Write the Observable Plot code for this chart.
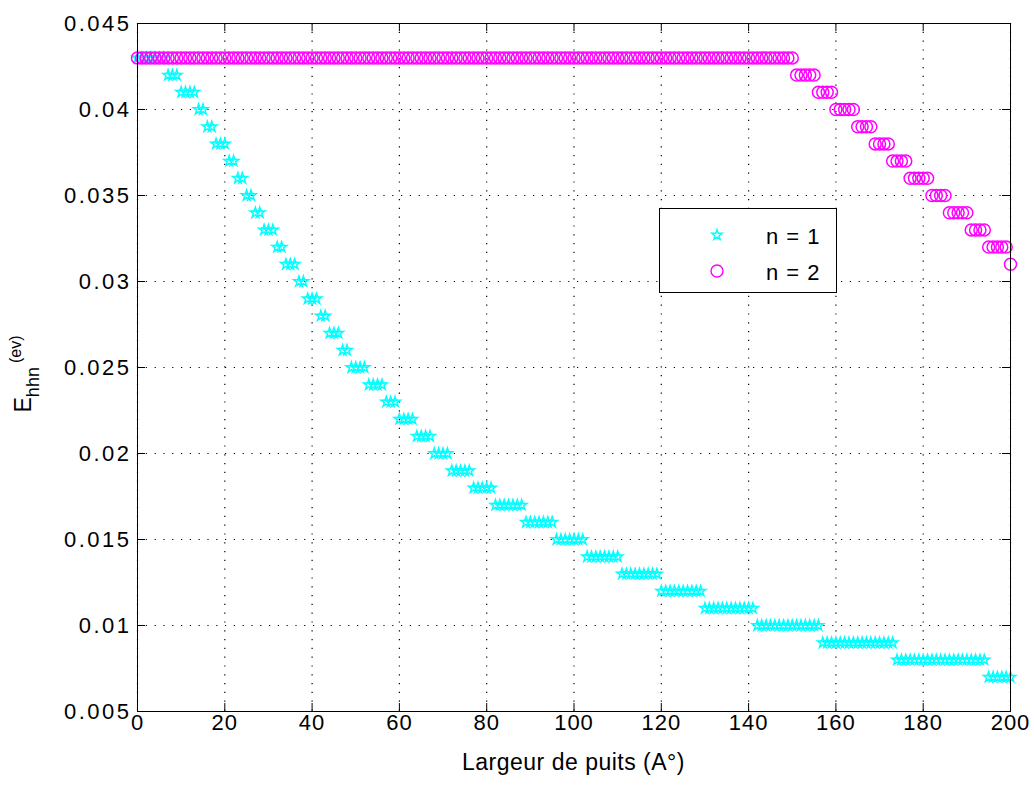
<!DOCTYPE html>
<html>
<head>
<meta charset="utf-8">
<script src="https://cdn.jsdelivr.net/npm/d3@7"></script>
<script src="https://cdn.jsdelivr.net/npm/@observablehq/plot@0.6"></script>
<style>
  html, body { margin: 0; padding: 0; background: #fff; }
  #wrap { position: relative; width: 1034px; height: 785px; overflow: hidden; background: #fff; }
  #legend { position: absolute; left: 659px; top: 208px; width: 178px; height: 85px; box-sizing: border-box;
            border: 1px solid #000; background: #fff; font-family: "Liberation Sans", Arial, sans-serif; font-size: 22px; color: #000; letter-spacing: 1px; }
  #legend .row { position: absolute; left: 0; width: 100%; height: 30px; }
  #legend svg { position: absolute; left: 42px; top: 0; }
  #legend span { position: absolute; left: 106px; top: 3px; white-space: pre; }
  .ytl text { letter-spacing: 2.5px; }
  .xtl text { letter-spacing: 1px; }
</style>
</head>
<body>
<div id="wrap"></div>
<script>
// ---- Data ----
const widths = [
  0,1,2,3,4,5,6,7,8,9,
  10,11,12,13,14,15,16,17,18,19,
  20,21,22,23,24,25,26,27,28,29,
  30,31,32,33,34,35,36,37,38,39,
  40,41,42,43,44,45,46,47,48,49,
  50,51,52,53,54,55,56,57,58,59,
  60,61,62,63,64,65,66,67,68,69,
  70,71,72,73,74,75,76,77,78,79,
  80,81,82,83,84,85,86,87,88,89,
  90,91,92,93,94,95,96,97,98,99,
  100,101,102,103,104,105,106,107,108,109,
  110,111,112,113,114,115,116,117,118,119,
  120,121,122,123,124,125,126,127,128,129,
  130,131,132,133,134,135,136,137,138,139,
  140,141,142,143,144,145,146,147,148,149,
  150,151,152,153,154,155,156,157,158,159,
  160,161,162,163,164,165,166,167,168,169,
  170,171,172,173,174,175,176,177,178,179,
  180,181,182,183,184,185,186,187,188,189,
  190,191,192,193,194,195,196,197,198,199,
  200
];

// n = 1 (cyan stars)
const energyN1 = [
  0.043,0.043,0.043,0.043,0.043,0.043,0.043,0.042,0.042,0.042,
  0.041,0.041,0.041,0.041,0.040,0.040,0.039,0.039,0.038,0.038,
  0.038,0.037,0.037,0.036,0.036,0.035,0.035,0.034,0.034,0.033,
  0.033,0.033,0.032,0.032,0.031,0.031,0.031,0.030,0.030,0.029,
  0.029,0.029,0.028,0.028,0.027,0.027,0.027,0.026,0.026,0.025,
  0.025,0.025,0.025,0.024,0.024,0.024,0.024,0.023,0.023,0.023,
  0.022,0.022,0.022,0.022,0.021,0.021,0.021,0.021,0.020,0.020,
  0.020,0.020,0.019,0.019,0.019,0.019,0.019,0.018,0.018,0.018,
  0.018,0.018,0.017,0.017,0.017,0.017,0.017,0.017,0.017,0.016,
  0.016,0.016,0.016,0.016,0.016,0.016,0.015,0.015,0.015,0.015,
  0.015,0.015,0.015,0.014,0.014,0.014,0.014,0.014,0.014,0.014,
  0.014,0.013,0.013,0.013,0.013,0.013,0.013,0.013,0.013,0.013,
  0.012,0.012,0.012,0.012,0.012,0.012,0.012,0.012,0.012,0.012,
  0.011,0.011,0.011,0.011,0.011,0.011,0.011,0.011,0.011,0.011,
  0.011,0.011,0.010,0.010,0.010,0.010,0.010,0.010,0.010,0.010,
  0.010,0.010,0.010,0.010,0.010,0.010,0.010,0.009,0.009,0.009,
  0.009,0.009,0.009,0.009,0.009,0.009,0.009,0.009,0.009,0.009,
  0.009,0.009,0.009,0.009,0.008,0.008,0.008,0.008,0.008,0.008,
  0.008,0.008,0.008,0.008,0.008,0.008,0.008,0.008,0.008,0.008,
  0.008,0.008,0.008,0.008,0.008,0.007,0.007,0.007,0.007,0.007,
  0.007
];

// n = 2 (magenta circles)
const energyN2 = [
  0.043,0.043,0.043,0.043,0.043,0.043,0.043,0.043,0.043,0.043,
  0.043,0.043,0.043,0.043,0.043,0.043,0.043,0.043,0.043,0.043,
  0.043,0.043,0.043,0.043,0.043,0.043,0.043,0.043,0.043,0.043,
  0.043,0.043,0.043,0.043,0.043,0.043,0.043,0.043,0.043,0.043,
  0.043,0.043,0.043,0.043,0.043,0.043,0.043,0.043,0.043,0.043,
  0.043,0.043,0.043,0.043,0.043,0.043,0.043,0.043,0.043,0.043,
  0.043,0.043,0.043,0.043,0.043,0.043,0.043,0.043,0.043,0.043,
  0.043,0.043,0.043,0.043,0.043,0.043,0.043,0.043,0.043,0.043,
  0.043,0.043,0.043,0.043,0.043,0.043,0.043,0.043,0.043,0.043,
  0.043,0.043,0.043,0.043,0.043,0.043,0.043,0.043,0.043,0.043,
  0.043,0.043,0.043,0.043,0.043,0.043,0.043,0.043,0.043,0.043,
  0.043,0.043,0.043,0.043,0.043,0.043,0.043,0.043,0.043,0.043,
  0.043,0.043,0.043,0.043,0.043,0.043,0.043,0.043,0.043,0.043,
  0.043,0.043,0.043,0.043,0.043,0.043,0.043,0.043,0.043,0.043,
  0.043,0.043,0.043,0.043,0.043,0.043,0.043,0.043,0.043,0.043,
  0.043,0.042,0.042,0.042,0.042,0.042,0.041,0.041,0.041,0.041,
  0.040,0.040,0.040,0.040,0.040,0.039,0.039,0.039,0.039,0.038,
  0.038,0.038,0.038,0.037,0.037,0.037,0.037,0.036,0.036,0.036,
  0.036,0.036,0.035,0.035,0.035,0.035,0.034,0.034,0.034,0.034,
  0.034,0.033,0.033,0.033,0.033,0.032,0.032,0.032,0.032,0.032,
  0.031
];

const seriesNames = ["n = 1", "n = 2"];
const xTicks = [0, 20, 40, 60, 80, 100, 120, 140, 160, 180, 200];
const xTickLabels = ["0", "20", "40", "60", "80", "100", "120", "140", "160", "180", "200"];
const yTicks = [0.005, 0.01, 0.015, 0.02, 0.025, 0.03, 0.035, 0.04, 0.045];
const yTickLabels = ["0.005", "0.01", "0.015", "0.02", "0.025", "0.03", "0.035", "0.04", "0.045"];
const xLabel = "Largeur de puits (A°)";

// ---- Layout ----
const W = 1034, H = 785;
const mL = 137, mR = 24, mT = 23, mB = 74;
const plotW = W - mL - mR, plotH = H - mT - mB;
const tickLen = 8;
const FONT = '"Liberation Sans", Arial, Helvetica, sans-serif';

const n1 = widths.map((w, i) => ({x: w, y: energyN1[i]}));
const n2 = widths.map((w, i) => ({x: w, y: energyN2[i]}));

const gridStyle = {stroke: "#000", strokeOpacity: 1, strokeWidth: 1.2, strokeDasharray: "1.2,7.6"};

const chart = Plot.plot({
  width: W, height: H,
  marginLeft: mL, marginRight: mR, marginTop: mT, marginBottom: mB,
  style: {fontFamily: FONT, fontSize: "22px", color: "#000", background: "#fff", overflow: "visible"},
  x: {domain: [0, 200]},
  y: {domain: [0.005, 0.045]},
  marks: [
    Plot.gridX(xTicks, gridStyle),
    Plot.gridY(yTicks, gridStyle),
    Plot.dot(n1, {x: "x", y: "y", symbol: "star", r: 3.3, stroke: "#00ffff", fill: "none", strokeWidth: 1.5}),
    Plot.dot(n2, {x: "x", y: "y", symbol: "circle", r: 6, stroke: "#ff00ff", fill: "none", strokeWidth: 1.5}),
    Plot.frame({stroke: "#000", strokeWidth: 1}),
    // inward ticks (MATLAB style) on all four sides
    Plot.ruleX(xTicks, {x: d => d, insetTop: plotH - tickLen, stroke: "#000"}),
    Plot.ruleX(xTicks, {x: d => d, insetBottom: plotH - tickLen, stroke: "#000"}),
    Plot.ruleY(yTicks, {y: d => d, insetRight: plotW - tickLen, stroke: "#000"}),
    Plot.ruleY(yTicks, {y: d => d, insetLeft: plotW - tickLen, stroke: "#000"}),
    Plot.axisX(xTicks, {anchor: "bottom", tickSize: 0, tickPadding: 3, label: null, className: "xtl",
      tickFormat: d => xTickLabels[xTicks.indexOf(d)], fontSize: 22}),
    Plot.axisY(yTicks, {anchor: "left", tickSize: 0, tickPadding: 6, label: null, className: "ytl",
      tickFormat: d => yTickLabels[yTicks.indexOf(d)], fontSize: 22})
  ]
});

document.getElementById("wrap").appendChild(chart);

// ---- Axis titles ----
const svg = d3.select(chart);
svg.append("text")
  .attr("x", mL + plotW / 2).attr("y", 770)
  .attr("text-anchor", "middle")
  .attr("font-family", FONT).attr("font-size", 23).attr("fill", "#000")
  .attr("letter-spacing", 0.5)
  .text(xLabel);

const yl = svg.append("text")
  .attr("transform", "translate(31,374) rotate(-90)")
  .attr("text-anchor", "middle")
  .attr("font-family", FONT).attr("fill", "#000");
yl.append("tspan").attr("font-size", 23).text("E");
yl.append("tspan").attr("font-size", 18).attr("dy", 8).text("hhn");
yl.append("tspan").attr("font-size", 16).attr("dy", -18).attr("dx", 4).text("(ev)");

// ---- Legend ----
const legend = document.createElement("div");
legend.id = "legend";
const legendSymbols = [
  {name: seriesNames[0], symbol: d3.symbolStar, size: 34, color: "#00ffff"},
  {name: seriesNames[1], symbol: d3.symbolCircle, size: Math.PI * 36, color: "#ff00ff"}
];
legendSymbols.forEach((s, i) => {
  const row = document.createElement("div");
  row.className = "row";
  row.style.top = (12 + i * 36) + "px";
  const sv = d3.create("svg").attr("width", 30).attr("height", 30);
  sv.append("path")
    .attr("transform", "translate(15,14)")
    .attr("d", d3.symbol(s.symbol, s.size)())
    .attr("fill", "none").attr("stroke", s.color).attr("stroke-width", 1.4);
  row.appendChild(sv.node());
  const sp = document.createElement("span");
  sp.textContent = s.name;
  row.appendChild(sp);
  legend.appendChild(row);
});
document.getElementById("wrap").appendChild(legend);
</script>
</body>
</html>
